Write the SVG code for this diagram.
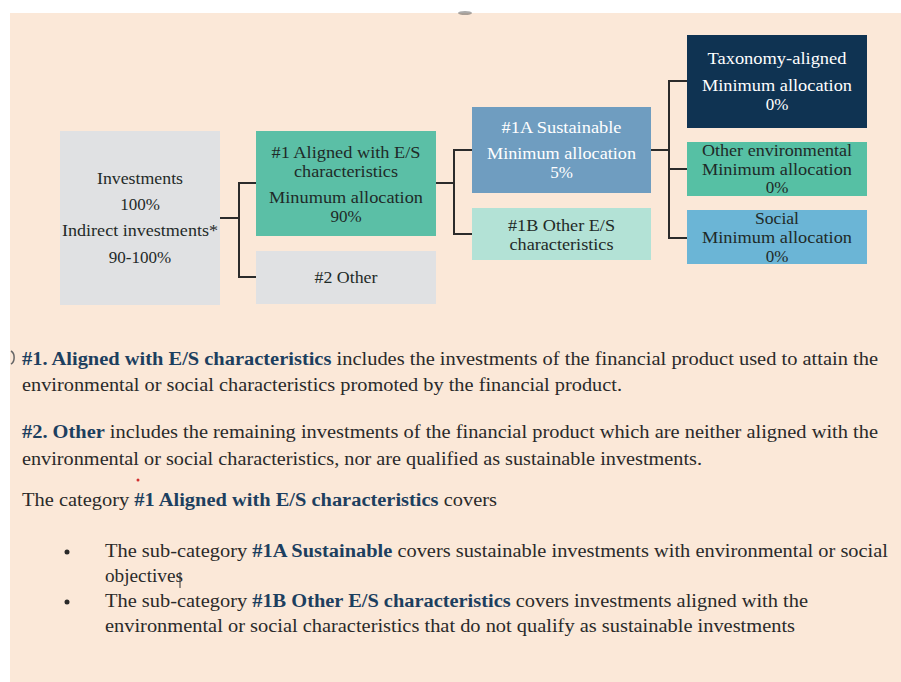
<svg xmlns="http://www.w3.org/2000/svg" width="901" height="682" viewBox="0 0 901 682">
<style>
text{font-family:'Liberation Serif','DejaVu Serif',serif}
.bx{font-size:17px;text-anchor:middle;fill:#1f2a28}
.wt{fill:#ffffff}
.body{font-size:18px;fill:#2a2a2a}
.b{font-weight:bold;fill:#1d3f5f}
.cn{fill:none;stroke:#2b2b2b;stroke-width:2}
</style>
<rect x="0" y="0" width="901" height="682" fill="#ffffff"/>
<rect x="10" y="13" width="891" height="669" fill="#fbe8d8"/>
<ellipse cx="465" cy="13" rx="7" ry="2" fill="#555" opacity="0.5"/>

<g id="connectors">
<path class="cn" d="M220,218 H239 M239,183 V277 M238,183 H256 M238,277 H256"/>
<path class="cn" d="M436,183 H454 M454,150 V234 M453,150 H472 M453,234 H472"/>
<path class="cn" d="M651,150 H669 M669,81 V238 M668,81 H687 M668,169 H687 M668,238 H687"/>
</g>

<g id="investments" font-family="Liberation Serif, serif">
<rect x="60" y="131" width="160" height="174" fill="#e0e1e3"/>
<text class="bx" x="140" y="184" textLength="86" lengthAdjust="spacingAndGlyphs">Investments</text>
<text class="bx" x="140" y="210">100%</text>
<text class="bx" x="140" y="236" textLength="156" lengthAdjust="spacingAndGlyphs">Indirect investments*</text>
<text class="bx" x="140" y="263">90-100%</text>
</g>

<g id="aligned">
<rect x="256" y="131" width="180" height="105" fill="#5bbfa6"/>
<text class="bx" x="346" y="158" textLength="149" lengthAdjust="spacingAndGlyphs">#1 Aligned with E/S</text>
<text class="bx" x="346" y="177" textLength="104" lengthAdjust="spacingAndGlyphs">characteristics</text>
<text class="bx" x="346" y="203" textLength="154" lengthAdjust="spacingAndGlyphs">Minumum allocation</text>
<text class="bx" x="346" y="222">90%</text>
</g>

<g id="other">
<rect x="256" y="251" width="180" height="53" fill="#e0e1e3"/>
<text class="bx" x="346" y="283" textLength="63" lengthAdjust="spacingAndGlyphs">#2 Other</text>
</g>

<g id="sustainable">
<rect x="472" y="107" width="179" height="86" fill="#6f9dc0"/>
<text class="bx wt" x="561.5" y="133" textLength="120" lengthAdjust="spacingAndGlyphs">#1A Sustainable</text>
<text class="bx wt" x="561.5" y="159" textLength="149" lengthAdjust="spacingAndGlyphs">Minimum allocation</text>
<text class="bx wt" x="561.5" y="178">5%</text>
</g>

<g id="other-es">
<rect x="472" y="208" width="179" height="52" fill="#b3e2d6"/>
<text class="bx" x="561.5" y="231" textLength="107" lengthAdjust="spacingAndGlyphs">#1B Other E/S</text>
<text class="bx" x="561.5" y="250" textLength="104" lengthAdjust="spacingAndGlyphs">characteristics</text>
</g>

<g id="taxonomy">
<rect x="687" y="35" width="180" height="93" fill="#0f3352"/>
<text class="bx wt" x="777" y="64" textLength="139" lengthAdjust="spacingAndGlyphs">Taxonomy-aligned</text>
<text class="bx wt" x="777" y="91" textLength="150" lengthAdjust="spacingAndGlyphs">Minimum allocation</text>
<text class="bx wt" x="777" y="110">0%</text>
</g>

<g id="other-env">
<rect x="687" y="142" width="180" height="54" fill="#56c0a4"/>
<text class="bx" x="777" y="156" textLength="150" lengthAdjust="spacingAndGlyphs">Other environmental</text>
<text class="bx" x="777" y="175" textLength="150" lengthAdjust="spacingAndGlyphs">Minimum allocation</text>
<text class="bx" x="777" y="193">0%</text>
</g>

<g id="social">
<rect x="687" y="210" width="180" height="54" fill="#6bb5d6"/>
<text class="bx" x="777" y="224" textLength="44" lengthAdjust="spacingAndGlyphs">Social</text>
<text class="bx" x="777" y="243" textLength="150" lengthAdjust="spacingAndGlyphs">Minimum allocation</text>
<text class="bx" x="777" y="262">0%</text>
</g>

<g id="notes">
<path d="M11,351 A5,7 0 0 1 11,364" fill="none" stroke="#666" stroke-width="1.5"/>
<text class="body" x="22" y="365" textLength="856" lengthAdjust="spacingAndGlyphs"><tspan class="b">#1. Aligned with E/S characteristics</tspan> includes the investments of the financial product used to attain the</text>
<text class="body" x="22" y="391" textLength="600" lengthAdjust="spacingAndGlyphs">environmental or social characteristics promoted by the financial product.</text>
<text class="body" x="22" y="438" textLength="856" lengthAdjust="spacingAndGlyphs"><tspan class="b">#2. Other</tspan> includes the remaining investments of the financial product which are neither aligned with the</text>
<text class="body" x="22" y="465" textLength="680" lengthAdjust="spacingAndGlyphs">environmental or social characteristics, nor are qualified as sustainable investments.</text>
<circle cx="138" cy="480" r="1.5" fill="#d23030"/>
<text class="body" x="22" y="506" textLength="475" lengthAdjust="spacingAndGlyphs">The category <tspan class="b">#1 Aligned with E/S characteristics</tspan> covers</text>
<circle cx="67" cy="552" r="2.5" fill="#2a2a2a"/>
<text class="body" x="105" y="557" textLength="783" lengthAdjust="spacingAndGlyphs">The sub-category <tspan class="b">#1A Sustainable</tspan> covers sustainable investments with environmental or social</text>
<text class="body" x="105" y="582" textLength="78" lengthAdjust="spacingAndGlyphs">objectives</text>
<line x1="180" y1="572" x2="180" y2="588" stroke="#333" stroke-width="1"/>
<circle cx="67" cy="602" r="2.5" fill="#2a2a2a"/>
<text class="body" x="105" y="607" textLength="703" lengthAdjust="spacingAndGlyphs">The sub-category <tspan class="b">#1B Other E/S characteristics</tspan> covers investments aligned with the</text>
<text class="body" x="105" y="632" textLength="690" lengthAdjust="spacingAndGlyphs">environmental or social characteristics that do not qualify as sustainable investments</text>
</g>
</svg>
